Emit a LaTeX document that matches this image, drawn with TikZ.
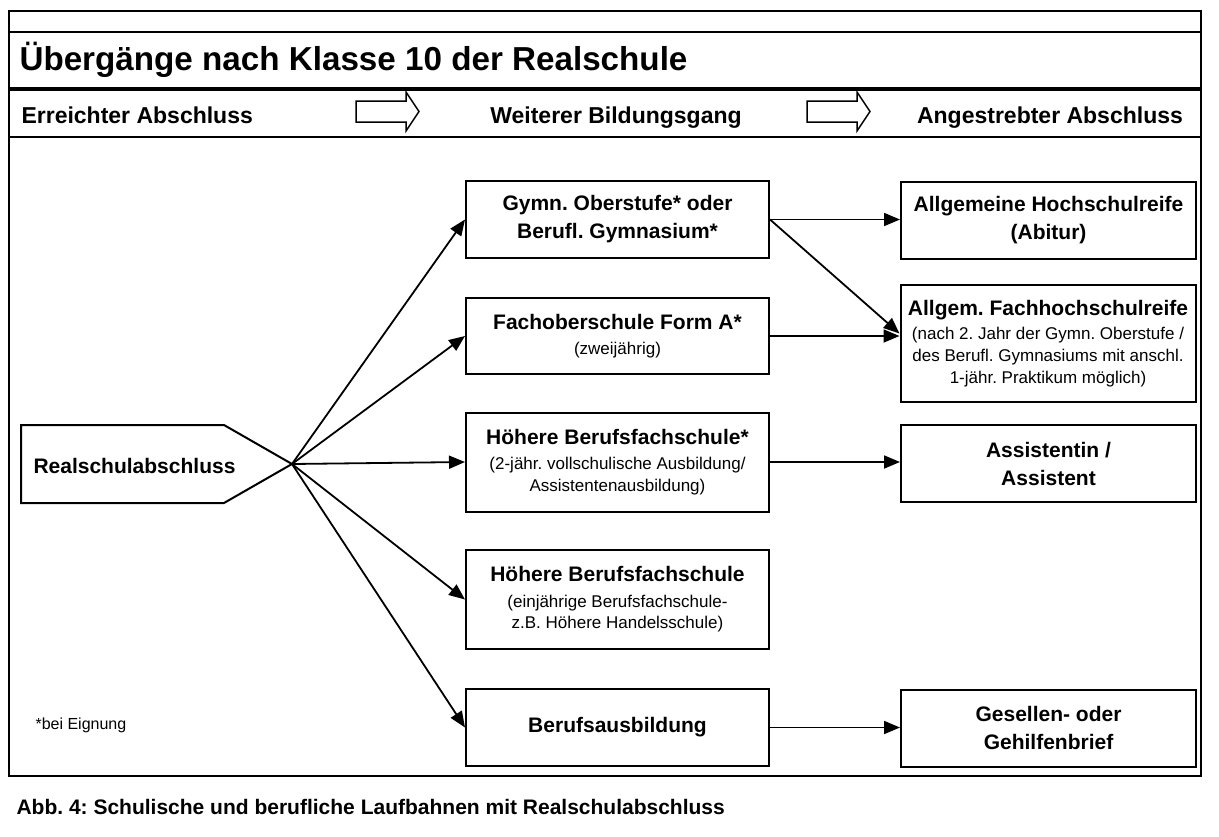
\documentclass[tikz,border=0pt]{standalone}
\usepackage{fontspec}
\setmainfont{Liberation Sans}
\usetikzlibrary{arrows.meta}
\frenchspacing
\newcommand{\subtxt}[1]{{\fontsize{17}{21}\selectfont\mdseries #1}}

\begin{document}
\begin{tikzpicture}[x=1pt, y=-1pt]
    \tikzstyle{box} = [rectangle, draw, line width=2pt, minimum width=303pt, minimum height=77pt, inner sep=0pt, align=center, font=\fontsize{21}{28}\selectfont\bfseries]
    \tikzstyle{goal} = [box, minimum width=295pt]
    \tikzstyle{colhead} = [font=\fontsize{23}{28}\selectfont\bfseries, anchor=base]
    \tikzstyle{arr} = [-{Triangle[length=16pt, width=13pt]}, line width=1.8pt]
    \tikzstyle{hollow} = [line width=1.5pt, fill=white]

    \useasboundingbox (0,0) rectangle (1219,836);

    % Frame with title and header bands
    \draw [line width=2.5pt] (9,11) rectangle (1201,776);
    \draw [line width=2pt] (9,32) -- (1201,32);
    \draw [line width=3.5pt] (9,89) -- (1201,89);
    \draw [line width=2.5pt] (9,137) -- (1201,137);
    \node [anchor=base west, font=\fontsize{33.2}{38}\selectfont\bfseries] (title) at (16,70) {Übergänge nach Klasse 10 der Realschule};

    % Column headings
    \node [colhead, anchor=base west] (h_left) at (18,123) {Erreichter Abschluss};
    \node [colhead] (h_mid) at (616,123) {Weiterer Bildungsgang};
    \node [colhead] (h_right) at (1050,123) {Angestrebter Abschluss};
    \foreach \x in {356,807}
        \draw [hollow] (\x,101) -- ++(50,0) -- ++(0,-9) -- ++(13,19.5) -- ++(-13,19.5) -- ++(0,-9) -- ++(-50,0) -- cycle;

    % Starting point
    \draw [line width=2pt] (21,425) -- (224,425) -- (292,464) -- (224,503) -- (21,503) -- cycle;
    \node [anchor=base west, font=\fontsize{21}{28}\selectfont\bfseries] (rsa) at (30,473) {Realschulabschluss};
    \coordinate (rsa_tip) at (292,464);

    % Middle column
    \node [box] (gym) at (617.5,219.5) {Gymn. Oberstufe* oder\\Berufl. Gymnasium*};
    \node [box, minimum height=76pt] (fos) at (617.5,336) {Fachoberschule Form A*\\[-3pt]\subtxt{(zweijährig)}};
    \node [box, minimum height=99pt] (hbf_a) at (617.5,462) {Höhere Berufsfachschule*\\[-3pt]\subtxt{(2-jähr. vollschulische Ausbildung/}\\[-6.5pt]\subtxt{Assistentenausbildung)}};
    \node [box, minimum height=99pt] (hbf_b) at (617.5,599.5) {Höhere Berufsfachschule\\[-2pt]\subtxt{(einjährige Berufsfachschule-}\\[-7pt]\subtxt{z.B. Höhere Handelsschule)}};
    \node [box] (ausb) at (617.5,727.5) {Berufsausbildung};

    % Right column
    \node [goal] (abi) at (1048.5,220.5) {Allgemeine Hochschulreife\\(Abitur)};
    \node [goal, minimum height=117pt] (fhr) at (1048,343.5) {Allgem. Fachhochschulreife\\[-4pt]\subtxt{(nach 2. Jahr der Gymn. Oberstufe /}\\[-6pt]\subtxt{des Berufl. Gymnasiums mit anschl.}\\[-6pt]\subtxt{1-jähr. Praktikum möglich)}};
    \node [goal] (assist) at (1048.5,463.5) {Assistentin /\\Assistent};
    \node [goal] (gesell) at (1048.5,728) {Gesellen- oder\\Gehilfenbrief};

    % Footnote and caption
    \node [anchor=base west, font=\fontsize{16}{20}\selectfont] (note) at (32,729) {*bei Eignung};
    \node [anchor=base west, font=\fontsize{21}{26}\selectfont\bfseries] (caption) at (13,814) {Abb. 4: Schulische und berufliche Laufbahnen mit Realschulabschluss};

    % Arrows
    \foreach \n in {gym,fos,hbf_a,hbf_b,ausb}
        \draw [arr] (rsa_tip) -- (\n.west);
    \draw [arr] (gym.east) -- (gym.east -| abi.west);
    \draw [arr] (gym.east) -- ([yshift=10pt]fhr.west);
    \draw [arr] (fos.east) -- (fos.east -| fhr.west);
    \draw [arr] (hbf_a.east) -- (hbf_a.east -| assist.west);
    \draw [arr] (ausb.east) -- (ausb.east -| gesell.west);
\end{tikzpicture}
\end{document}
